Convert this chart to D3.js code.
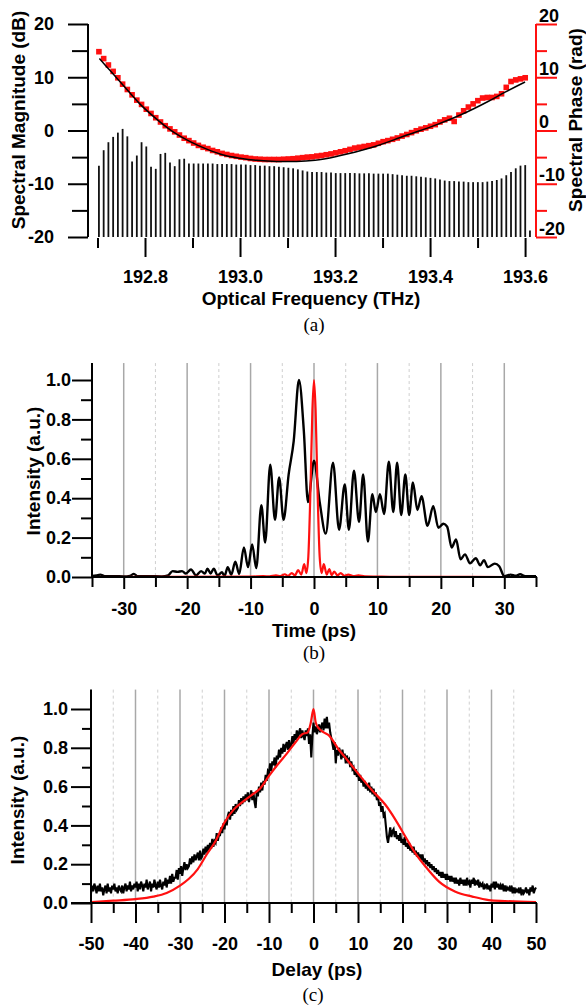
<!DOCTYPE html>
<html>
<head>
<meta charset="utf-8">
<script src="https://d3js.org/d3.v7.min.js"></script>
<style>
  body { margin: 0; background: #fff; }
  text { font-family: "Liberation Sans", Arial, sans-serif; font-weight: bold; fill: #000; }
  .cap { font-family: "Liberation Serif", "Times New Roman", serif; font-weight: normal; font-size: 19px; }
</style>
</head>
<body>
<div id="chart"></div>
<script>

// ---------- (a) spectrum ----------
// comb lines, 10 GHz apart
var combStart = 192.703, combStep = 0.00997;
var magDB = [-6.6,-3.7,-2.2,-1.2,-0.4,0.3,-1.1,-5.8,-4.7,-2.2,
             -3.0,-6.8,-7.2,-4.4,-4.2,-6.0,-6.7,-5.4,-5.3,-6.2,
             -6.2,-6.2,-6.2,-6.2,-6.2,-6.3,-6.3,-6.3,-6.3,-6.4,
             -6.4,-6.4,-6.5,-6.5,-6.6,-6.6,-6.7,-6.7,-6.8,-6.9,
             -7.0,-7.1,-7.3,-7.5,-7.7,-7.8,-7.8,-7.8,-7.9,-7.9,
             -8.0,-8.0,-8.0,-8.0,-8.0,-8.05,-8.05,-8.05,-8.1,-8.1,
             -8.1,-8.1,-8.2,-8.3,-8.4,-8.5,-8.5,-8.6,-8.7,-8.8,
             -8.9,-9.0,-9.2,-9.4,-9.5,-9.5,-9.6,-9.6,-9.7,-9.7,
             -9.7,-9.7,-9.6,-9.5,-9.3,-9.0,-8.4,-7.8,-7.1,-6.6,
             -6.5,-18.8];
var phaseRad = [14.8,13.5,12.3,11.1,9.9,8.7,7.7,6.7,5.7,4.9,
                4.0,3.2,2.4,1.6,0.9,0.3,-0.25,-0.85,-1.45,-1.9,
                -2.35,-2.8,-3.15,-3.4,-3.75,-4.0,-4.3,-4.5,-4.7,-4.85,
                -5.0,-5.1,-5.25,-5.35,-5.4,-5.45,-5.45,-5.45,-5.45,-5.4,
                -5.35,-5.3,-5.2,-5.1,-5.0,-4.95,-4.8,-4.7,-4.55,-4.4,
                -4.2,-4.0,-3.8,-3.55,-3.3,-3.15,-3.0,-2.85,-2.7,-2.4,
                -2.1,-1.9,-1.65,-1.4,-1.05,-0.75,-0.4,-0.05,0.25,0.5,
                0.8,1.1,1.6,2.0,2.3,1.7,2.9,3.7,4.4,5.0,
                5.6,6.1,6.2,6.2,6.4,6.9,8.1,9.2,9.5,9.7,9.9];
var fitFreq  = [192.704,192.726,192.754,192.789,192.825,192.860,192.895,192.930,192.965,193.000,193.035,
                193.077,193.119,193.158,193.207,193.277,193.347,193.417,193.466,193.523,193.558,193.600];
var fitPhase = [13.5,11.3,8.5,5.0,2.1,-0.3,-2.1,-3.5,-4.6,-5.2,-5.6,
                -5.8,-5.8,-5.6,-4.8,-3.2,-1.0,1.2,3.0,5.5,7.2,9.1];
var freqTicks = [192.8,193.0,193.2,193.4,193.6];
var freqMinor = [192.7,192.9,193.1,193.3,193.5];
var dbTicks = [-20,-10,0,10,20], dbMinor = [-15,-5,5,15];

// ---------- (b) temporal intensity ----------
var timeB = [-35,-34.3,-33.7,-33,-31.5,-30,-29,-28.4,-27.8,-26,-24,-23,-22.3,-21.5,-20.8,-20.2,-19.4,-18.6,
             -17.8,-17.2,-16.8,-16.3,-15.8,-15.2,-14.5,-14.1,-13.6,-13.05,-12.4,-11.8,-11.05,-10.4,-9.75,-9.1,
             -8.3,-7.7,-6.9,-6.15,-5.5,-4.8,-4.0,-3.2,-2.37,-1.6,-0.95,0,0.9,1.85,3.0,3.95,4.85,5.5,6.3,7.1,
             7.75,8.5,9.2,9.75,10.4,11.05,11.8,12.5,13.1,13.75,14.4,15.0,15.6,16.3,16.95,17.9,18.8,19.6,20.4,
             21.0,21.7,22.4,23.1,23.8,24.6,25.5,26.2,26.8,27.4,28.5,29.2,30.0,31.0,31.8,32.5,33.3,35];
var intB  = [0.005,0.008,0.012,0.004,0.004,0.003,0.006,0.016,0.004,0.004,0.003,0.008,0.03,0.026,0.03,0.018,0.038,0.008,
             0.03,0.018,0.042,0.018,0.042,0.008,0.024,0.005,0.05,0.012,0.078,0.015,0.15,0.05,0.165,0.045,
             0.365,0.175,0.57,0.29,0.505,0.29,0.52,0.69,1.0,0.74,0.38,0.59,0.38,0.22,0.58,0.24,0.47,0.24,0.54,0.28,
             0.52,0.18,0.42,0.33,0.42,0.32,0.585,0.33,0.58,0.315,0.52,0.315,0.48,0.34,0.41,0.26,0.36,0.25,0.27,
             0.255,0.15,0.19,0.09,0.115,0.07,0.095,0.06,0.085,0.05,0.068,0.055,0.004,0.012,0.006,0.014,0.004,0.004];
var timeR = [-35,-10,-8,-7,-6,-5.3,-4.6,-4.1,-3.5,-3.0,-2.5,-2.0,-1.55,-1.2,-0.9,-0.55,-0.25,0,
             0.25,0.55,0.9,1.2,1.55,2.0,2.4,2.8,3.2,3.7,4.2,4.8,5.4,6.2,7,8,10,12,35];
var intR  = [0,0.002,0.004,0.003,0.008,0.004,0.014,0.006,0.02,0.008,0.035,0.012,0.065,0.02,0.1,0.45,0.85,1.0,
             0.85,0.45,0.1,0.02,0.065,0.012,0.04,0.01,0.028,0.008,0.02,0.006,0.012,0.005,0.008,0.003,0.002,0.001,0];
var timeMajor = [-30,-20,-10,0,10,20,30], timeMinor = [-35,-25,-15,-5,5,15,25,35];

// ---------- (c) autocorrelation ----------
// measured trace, one sample every 0.25 ps from -50 ps (4 per row = 1 ps)
var delayStart = -50, delayStep = 0.25;
var acMeas = [
  .05,.09,.06,.10, .08,.05,.09,.06, .10,.06,.08,.04, .07,.09,.05,.10, .06,.08,.05,.09,
  .07,.10,.06,.08, .05,.09,.07,.06, .09,.05,.08,.10, .06,.09,.07,.11, .06,.09,.07,.10,
  .08,.11,.06,.10, .07,.11,.09,.06, .10,.08,.12,.07, .09,.11,.06,.10, .08,.12,.09,.07,
  .11,.08,.12,.09, .07,.11,.09,.13, .08,.12,.10,.14, .10,.15,.11,.13, .13,.17,.12,.18,
  .15,.19,.14,.18, .21,.17,.20,.18, .19,.23,.20,.24, .21,.25,.22,.24, .26,.22,.27,.23,
  .24,.28,.25,.29, .26,.30,.27,.31, .28,.33,.29,.32, .31,.36,.32,.35, .35,.39,.36,.41,
  .38,.43,.40,.45, .47,.43,.48,.45, .50,.46,.51,.48, .49,.53,.50,.54, .51,.55,.52,.56,
  .53,.57,.52,.55, .58,.53,.57,.52, .49,.58,.55,.60, .57,.62,.58,.63, .61,.66,.63,.68,
  .67,.72,.68,.73, .71,.75,.70,.76, .74,.79,.75,.80, .77,.82,.78,.81, .83,.79,.84,.80,
  .81,.86,.82,.87, .84,.89,.85,.88, .90,.85,.89,.86, .84,.89,.86,.90, .82,.87,.75,.86,
  .93,.88,.91,.87, .89,.92,.88,.91, .93,.89,.95,.90, .96,.90,.93,.88, .85,.82,.79,.83,
  .72,.79,.76,.80, .78,.74,.79,.75, .77,.72,.76,.73, .74,.70,.73,.69, .70,.66,.69,.65,
  .67,.63,.66,.62, .64,.60,.63,.59, .61,.58,.62,.57, .60,.56,.59,.55, .57,.53,.55,.50,
  .52,.47,.50,.45, .46,.40,.34,.31, .35,.39,.34,.37, .38,.34,.37,.33, .35,.32,.36,.31,
  .33,.30,.34,.29, .31,.28,.31,.27, .29,.26,.29,.25, .27,.24,.26,.23, .25,.22,.25,.21,
  .23,.20,.22,.19, .21,.18,.20,.17, .19,.16,.18,.15, .17,.14,.16,.13, .16,.13,.15,.12,
  .15,.12,.14,.11, .14,.11,.13,.10, .13,.10,.12,.09, .13,.10,.12,.09, .12,.09,.13,.10,
  .11,.08,.12,.10, .13,.09,.11,.10, .12,.08,.10,.09, .10,.07,.09,.08, .10,.07,.09,.06,
  .10,.08,.11,.07, .11,.08,.10,.07, .09,.07,.10,.06, .09,.06,.08,.07, .08,.06,.09,.05,
  .08,.05,.07,.06, .07,.05,.08,.04, .07,.05,.06,.08, .05,.07,.04,.08, .06,.09,.05,.07,
  .08];
var delayCalc = [-50,-45,-40,-36,-33,-30,-28,-26,-24,-22,-20,-18,-16,-14,-12,-10,-8,-6,-4,-2.5,-1.3,-0.6,0,
                 0.5,1.2,2.3,3.4,5.7,7.5,9.4,11,13.2,16.2,18.4,20.7,22.9,25.2,28.2,31.9,35.7,39.4,43,50];
var acCalc = [0.005,0.012,0.02,0.033,0.052,0.09,0.125,0.175,0.25,0.32,0.415,0.48,0.52,0.555,0.59,0.655,0.715,0.77,0.83,0.87,0.88,0.93,1.0,
              0.93,0.9,0.88,0.865,0.79,0.74,0.685,0.64,0.58,0.505,0.43,0.34,0.256,0.187,0.11,0.058,0.033,0.015,0.01,0.004];
var delayMajor = [-50,-40,-30,-20,-10,0,10,20,30,40,50];
var delayMinor = [-45,-35,-25,-15,-5,5,15,25,35,45];

var intMajor = [0,0.2,0.4,0.6,0.8,1.0], intMinor = [0.1,0.3,0.5,0.7,0.9];

var TICK_FONT = 18, TITLE_FONT = 19;

var svg = d3.select("#chart").append("svg")
    .attr("width", 586).attr("height", 1006);
svg.append("rect").attr("width", 586).attr("height", 1006).attr("fill", "#fff");

function styleAxis(g, size, color) {
  g.select(".domain").remove();
  g.selectAll("line").attr("stroke", color || "#000").attr("stroke-width", 2);
  g.selectAll("text").style("font-size", size + "px").attr("fill", "#000");
}

// ================= panel (a) =================
var xA = d3.scaleLinear().domain([192.68, 193.623]).range([88, 536]);
var yA = d3.scaleLinear().domain([-20, 20]).range([237, 24]);
var yPh = d3.scaleLinear().domain([-20, 20]).range([237, 24]);

svg.append("g").selectAll("line").data(magDB).enter().append("line")
    .attr("x1", function(d, i) { return xA(combStart + i * combStep); })
    .attr("x2", function(d, i) { return xA(combStart + i * combStep); })
    .attr("y1", yA(-20))
    .attr("y2", function(d) { return yA(d); })
    .attr("stroke", "#111").attr("stroke-width", 1.8);

svg.append("g").selectAll("rect").data(phaseRad).enter().append("rect")
    .attr("x", function(d, i) { return xA(combStart + i * combStep) - 2.8; })
    .attr("y", function(d) { return yPh(d) - 2.8; })
    .attr("width", 5.6).attr("height", 5.6)
    .attr("fill", "#ff1010");

svg.append("path")
    .datum(fitFreq.map(function(f, i) { return [f, fitPhase[i]]; }))
    .attr("fill", "none").attr("stroke", "#000").attr("stroke-width", 1.5)
    .attr("d", d3.line().x(function(d) { return xA(d[0]); }).y(function(d) { return yPh(d[1]); })
        .curve(d3.curveMonotoneX));

// left axis
svg.append("line").attr("x1", 88).attr("x2", 88).attr("y1", yA(20)).attr("y2", yA(-20))
    .attr("stroke", "#000").attr("stroke-width", 2);
svg.append("g").attr("transform", "translate(88,0)")
    .call(d3.axisLeft(yA).tickValues(dbMinor).tickSize(16).tickFormat(""))
    .call(styleAxis, TICK_FONT);
svg.append("g").attr("transform", "translate(88,0)")
    .call(d3.axisLeft(yA).tickValues(dbTicks).tickSize(20).tickPadding(14).tickFormat(function(d) { return String(d); }))
    .call(styleAxis, TICK_FONT);

// right axis (phase, red)
svg.append("line").attr("x1", 536).attr("x2", 536).attr("y1", yPh(20)).attr("y2", yPh(-20))
    .attr("stroke", "#ff1010").attr("stroke-width", 2);
svg.append("g").attr("transform", "translate(536,0)")
    .call(d3.axisRight(yPh).tickValues(dbMinor).tickSize(11).tickFormat(""))
    .call(styleAxis, TICK_FONT, "#ff1010");
var rAx = svg.append("g").attr("transform", "translate(536,0)")
    .call(d3.axisRight(yPh).tickValues(dbTicks).tickSize(21).tickFormat(function(d) { return String(d); }))
    .call(styleAxis, TICK_FONT, "#ff1010");
rAx.selectAll("text").attr("x", 3).attr("dy", "-3");

// frequency axis (detached ticks)
svg.append("g").attr("transform", "translate(0,238)")
    .call(d3.axisBottom(xA).tickValues(freqMinor).tickSize(10).tickFormat(""))
    .call(styleAxis, TICK_FONT);
svg.append("g").attr("transform", "translate(0,238)")
    .call(d3.axisBottom(xA).tickValues(freqTicks).tickSize(19).tickPadding(13).tickFormat(function(d) { return d.toFixed(1); }))
    .call(styleAxis, TICK_FONT);

svg.append("text").attr("x", 311).attr("y", 305).attr("text-anchor", "middle")
    .style("font-size", TITLE_FONT + "px").text("Optical Frequency (THz)");
svg.append("text").attr("transform", "translate(25,120) rotate(-90)").attr("text-anchor", "middle")
    .style("font-size", TITLE_FONT + "px").text("Spectral Magnitude (dB)");
svg.append("text").attr("transform", "translate(582,120) rotate(-90)").attr("text-anchor", "middle")
    .style("font-size", TITLE_FONT + "px").text("Spectral Phase (rad)");
svg.append("text").attr("class", "cap").attr("x", 314).attr("y", 331).attr("text-anchor", "middle").text("(a)");

// ================= panel (b) =================
var xB = d3.scaleLinear().domain([-35, 35]).range([92, 536]);
var yB = d3.scaleLinear().domain([0, 1]).range([577, 380]);
var topB = 1.086;

function grid(xs, x, y0, y1, dashed) {
  svg.append("g").selectAll("line").data(xs).enter().append("line")
      .attr("x1", function(d) { return x(d); }).attr("x2", function(d) { return x(d); })
      .attr("y1", y0).attr("y2", y1)
      .attr("stroke", dashed ? "#cfcfcf" : "#a8a8a8")
      .attr("stroke-width", dashed ? 1 : 1.5)
      .attr("stroke-dasharray", dashed ? "3,3" : null);
}
grid(timeMajor, xB, yB(topB), yB(0), false);
grid([-25,-15,-5,5,15,25], xB, yB(topB), yB(0), true);

var lineB = d3.line().x(function(d) { return xB(d[0]); }).y(function(d) { return yB(d[1]); })
    .curve(d3.curveMonotoneX);
svg.append("path").datum(timeB.map(function(t, i) { return [t, intB[i]]; }))
    .attr("fill", "none").attr("stroke", "#000").attr("stroke-width", 2.4).attr("d", lineB);
svg.append("path").datum(timeR.map(function(t, i) { return [t, intR[i]]; }))
    .attr("fill", "none").attr("stroke", "#ff1010").attr("stroke-width", 2.2).attr("d", lineB);

svg.append("line").attr("x1", 92).attr("x2", 92).attr("y1", yB(topB)).attr("y2", yB(0))
    .attr("stroke", "#000").attr("stroke-width", 2);
svg.append("line").attr("x1", 91).attr("x2", 537).attr("y1", yB(0)).attr("y2", yB(0))
    .attr("stroke", "#000").attr("stroke-width", 2);
svg.append("g").attr("transform", "translate(92,0)")
    .call(d3.axisLeft(yB).tickValues(intMinor).tickSize(11).tickFormat(""))
    .call(styleAxis, TICK_FONT);
svg.append("g").attr("transform", "translate(92,0)")
    .call(d3.axisLeft(yB).tickValues(intMajor).tickSize(20).tickPadding(1).tickFormat(function(d) { return d.toFixed(1); }))
    .call(styleAxis, TICK_FONT);
svg.append("g").attr("transform", "translate(0,577)")
    .call(d3.axisBottom(xB).tickValues(timeMinor).tickSize(10).tickFormat(""))
    .call(styleAxis, TICK_FONT);
svg.append("g").attr("transform", "translate(0,577)")
    .call(d3.axisBottom(xB).tickValues(timeMajor).tickSize(12).tickPadding(13).tickFormat(function(d) { return String(d); }))
    .call(styleAxis, TICK_FONT);

svg.append("text").attr("x", 314).attr("y", 637).attr("text-anchor", "middle")
    .style("font-size", TITLE_FONT + "px").text("Time (ps)");
svg.append("text").attr("transform", "translate(40,471) rotate(-90)").attr("text-anchor", "middle")
    .style("font-size", TITLE_FONT + "px").text("Intensity (a.u.)");
svg.append("text").attr("class", "cap").attr("x", 314).attr("y", 659).attr("text-anchor", "middle").text("(b)");

// ================= panel (c) =================
var xC = d3.scaleLinear().domain([-50, 50]).range([91, 536]);
var yC = d3.scaleLinear().domain([0, 1]).range([903, 709]);
var topC = 1.1;

grid([-40,-30,-20,-10,0,10,20,30,40], xC, yC(topC), yC(0), false);
grid(delayMinor, xC, yC(topC), yC(0), true);

svg.append("path").datum(acMeas.map(function(v, i) { return [delayStart + i * delayStep, v]; }))
    .attr("fill", "none").attr("stroke", "#000").attr("stroke-width", 2.1)
    .attr("d", d3.line().x(function(d) { return xC(d[0]); }).y(function(d) { return yC(d[1]); }));
svg.append("path").datum(delayCalc.map(function(t, i) { return [t, acCalc[i]]; }))
    .attr("fill", "none").attr("stroke", "#ff1010").attr("stroke-width", 2.2)
    .attr("d", d3.line().x(function(d) { return xC(d[0]); }).y(function(d) { return yC(d[1]); })
        .curve(d3.curveMonotoneX));

svg.append("line").attr("x1", 91).attr("x2", 91).attr("y1", yC(topC)).attr("y2", yC(0))
    .attr("stroke", "#000").attr("stroke-width", 2);
svg.append("line").attr("x1", 71).attr("x2", 537).attr("y1", yC(0)).attr("y2", yC(0))
    .attr("stroke", "#000").attr("stroke-width", 2);
svg.append("g").attr("transform", "translate(91,0)")
    .call(d3.axisLeft(yC).tickValues(intMinor).tickSize(9).tickFormat(""))
    .call(styleAxis, TICK_FONT);
svg.append("g").attr("transform", "translate(91,0)")
    .call(d3.axisLeft(yC).tickValues(intMajor).tickSize(20).tickPadding(3).tickFormat(function(d) { return d.toFixed(1); }))
    .call(styleAxis, TICK_FONT);
svg.append("g").attr("transform", "translate(0,903)")
    .call(d3.axisBottom(xC).tickValues(delayMinor).tickSize(10).tickFormat(""))
    .call(styleAxis, TICK_FONT);
svg.append("g").attr("transform", "translate(0,903)")
    .call(d3.axisBottom(xC).tickValues(delayMajor).tickSize(20).tickPadding(14).tickFormat(function(d) { return String(d); }))
    .call(styleAxis, TICK_FONT);

svg.append("text").attr("x", 317).attr("y", 976).attr("text-anchor", "middle")
    .style("font-size", TITLE_FONT + "px").text("Delay (ps)");
svg.append("text").attr("transform", "translate(24,800) rotate(-90)").attr("text-anchor", "middle")
    .style("font-size", TITLE_FONT + "px").text("Intensity (a.u.)");
svg.append("text").attr("class", "cap").attr("x", 313).attr("y", 1001).attr("text-anchor", "middle").text("(c)");

</script>
</body>
</html>
